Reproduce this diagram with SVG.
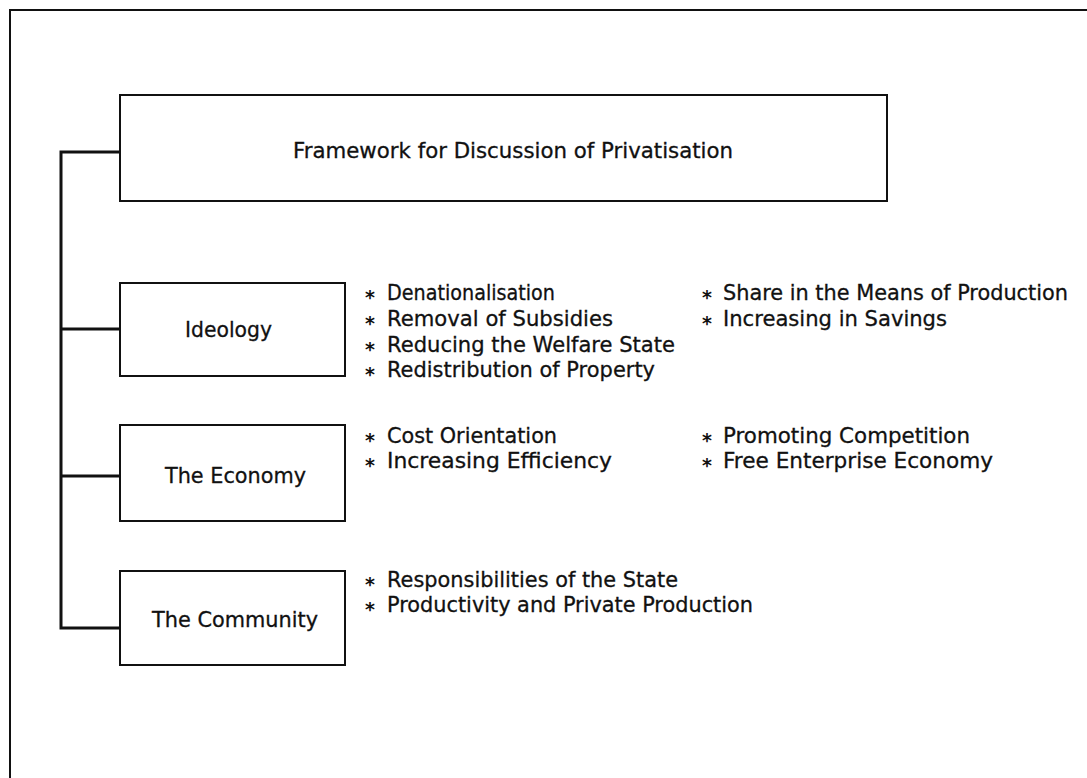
<svg xmlns="http://www.w3.org/2000/svg" width="1087" height="778" viewBox="0 0 1087 778">
<style>
.box{fill:#fff;stroke:#111;stroke-width:2}
.conn{fill:none;stroke:#111;stroke-width:3}
.frame{fill:none;stroke:#111;stroke-width:2}
text{font-family:"DejaVu Sans","Liberation Sans",sans-serif;font-size:21px;fill:#111;stroke:#111;stroke-width:0.3}
.s{font-size:19px;font-weight:bold;stroke-width:0}
</style>
<defs>
<g id="star"><text class="s" x="0" y="4">*</text></g>
</defs>
<rect width="1087" height="778" fill="#fff"/>
<path class="frame" d="M10,778 V10 H1087"/>
<g id="connectors">
<path class="conn" d="M120,152 H61 V628 H120"/>
<path class="conn" d="M61,329 H120"/>
<path class="conn" d="M61,476 H120"/>
</g>
<g id="framework">
<rect class="box" x="120" y="95" width="767" height="106"/>
<text x="293" y="158" textLength="440" lengthAdjust="spacingAndGlyphs">Framework for Discussion of Privatisation</text>
</g>
<g id="ideology">
<rect class="box" x="120" y="283" width="225" height="93"/>
<text x="185" y="337" textLength="87" lengthAdjust="spacingAndGlyphs">Ideology</text>
</g>
<g id="economy">
<rect class="box" x="120" y="425" width="225" height="96"/>
<text x="165" y="483" textLength="141" lengthAdjust="spacingAndGlyphs">The Economy</text>
</g>
<g id="community">
<rect class="box" x="120" y="571" width="225" height="94"/>
<text x="152" y="627" textLength="166" lengthAdjust="spacingAndGlyphs">The Community</text>
</g>
<g id="ideology-items">
<use href="#star" x="365" y="300"/>
<text x="387" y="300" textLength="168" lengthAdjust="spacingAndGlyphs">Denationalisation</text>
<use href="#star" x="365" y="326"/>
<text x="387" y="326" textLength="226" lengthAdjust="spacingAndGlyphs">Removal of Subsidies</text>
<use href="#star" x="365" y="352"/>
<text x="387" y="352" textLength="288" lengthAdjust="spacingAndGlyphs">Reducing the Welfare State</text>
<use href="#star" x="365" y="377"/>
<text x="387" y="377" textLength="268" lengthAdjust="spacingAndGlyphs">Redistribution of Property</text>
<use href="#star" x="702" y="300"/>
<text x="723" y="300" textLength="345" lengthAdjust="spacingAndGlyphs">Share in the Means of Production</text>
<use href="#star" x="702" y="326"/>
<text x="723" y="326" textLength="224" lengthAdjust="spacingAndGlyphs">Increasing in Savings</text>
</g>
<g id="economy-items">
<use href="#star" x="365" y="443"/>
<text x="387" y="443" textLength="170" lengthAdjust="spacingAndGlyphs">Cost Orientation</text>
<use href="#star" x="365" y="468"/>
<text x="387" y="468" textLength="225" lengthAdjust="spacingAndGlyphs">Increasing Efficiency</text>
<use href="#star" x="702" y="443"/>
<text x="723" y="443" textLength="247" lengthAdjust="spacingAndGlyphs">Promoting Competition</text>
<use href="#star" x="702" y="468"/>
<text x="723" y="468" textLength="270" lengthAdjust="spacingAndGlyphs">Free Enterprise Economy</text>
</g>
<g id="community-items">
<use href="#star" x="365" y="587"/>
<text x="387" y="587" textLength="291" lengthAdjust="spacingAndGlyphs">Responsibilities of the State</text>
<use href="#star" x="365" y="612"/>
<text x="387" y="612" textLength="366" lengthAdjust="spacingAndGlyphs">Productivity and Private Production</text>
</g>
</svg>
